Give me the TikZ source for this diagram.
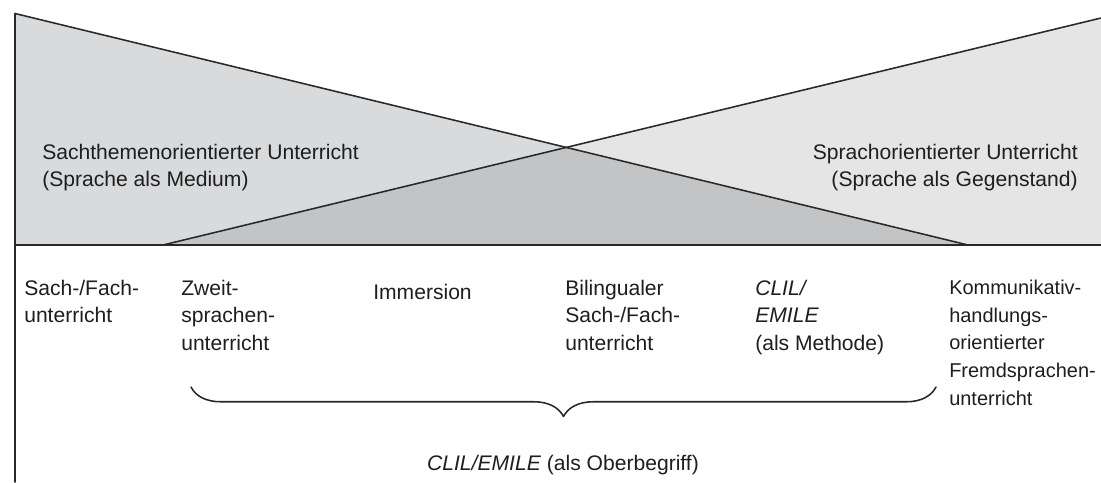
\documentclass[tikz,border=0pt]{standalone}
\usepackage{fontspec}
\setmainfont{Liberation Sans}
\usetikzlibrary{calc, decorations.pathreplacing, positioning}
\definecolor{greyleft}{RGB}{217,218,220}
\definecolor{greyright}{RGB}{229,229,230}
\definecolor{greymid}{RGB}{195,196,198}
\definecolor{darkline}{RGB}{40,40,40}
\definecolor{textgrey}{RGB}{30,30,30}

\begin{document}
\begin{tikzpicture}[x=0.025cm, y=-0.025cm, line cap=round, line join=round,
	lbl/.style={anchor=north west, inner sep=0pt, align=left, text=textgrey,
		font=\fontsize{15}{19.8}\selectfont, execute at begin node={\strut}},
	edge/.style={darkline, line width=1.1pt}]
	\useasboundingbox (0,0) rectangle (1101,482);

	% corners of the two triangles
	\coordinate (TL) at (15,13.5);
	\coordinate (BL) at (15,245);
	\coordinate (TR) at (1101,18);
	\coordinate (BR) at (1101,245);
	\coordinate (L) at (968,245);
	\coordinate (R) at (163,245);
	\coordinate (BB) at (15,482);
	\coordinate (X) at (intersection of TL--L and TR--R);

	% shaded areas
	\fill[greyleft] (TL)--(BL)--(L)--cycle;
	\fill[greyright] (TR)--(BR)--(R)--cycle;
	\fill[greymid] (R)--(X)--(L)--cycle;

	% outlines
	\draw[edge] (TL)--(BB);
	\draw[edge] (BL)--(BR);
	\draw[edge] (TL)--(L);
	\draw[edge] (TR)--(R);

	% labels of the two triangles (top of first line = baseline - 19.6)
	\node[lbl] (medium) at (42,143.5) {Sachthemenorientierter Unterricht\\(Sprache als Medium)};
	\node[lbl, anchor=north east, align=right] (gegenstand) at (1078,143.5)
		{Sprachorientierter Unterricht\\(Sprache als Gegenstand)};

	% forms of teaching
	\node[lbl] (sach) at (24,279.5) {Sach-/Fach-\\unterricht};
	\node[lbl] (zweit) at (181,279.5) {Zweit-\\sprachen-\\unterricht};
	\node[lbl] (immersion) at (373,279.5) {Immersion};
	\node[lbl] (biling) at (565,279.5) {Bilingualer\\Sach-/Fach-\\unterricht};
	\node[lbl] (clil) at (755,279.5) {\textit{CLIL/}\\\textit{EMILE}\\(als Methode)};
	\node[lbl, font=\fontsize{14.2}{19.8}\selectfont] (kommun) at (949,279.5)
		{Kommunikativ-\\handlungs-\\orientierter\\Fremdsprachen-\\unterricht};

	% brace and umbrella term
	\coordinate (braceL) at (191,387);
	\coordinate (braceR) at (936,387);
	\draw[darkline, line width=1.1pt, decorate, decoration={brace, mirror, amplitude=21pt}]
		(braceL)--(braceR);
	\node[lbl, anchor=base, execute at begin node={}] (oberbegriff) at (563,470)
		{\textit{CLIL/EMILE} (als Oberbegriff)};
\end{tikzpicture}
\end{document}
